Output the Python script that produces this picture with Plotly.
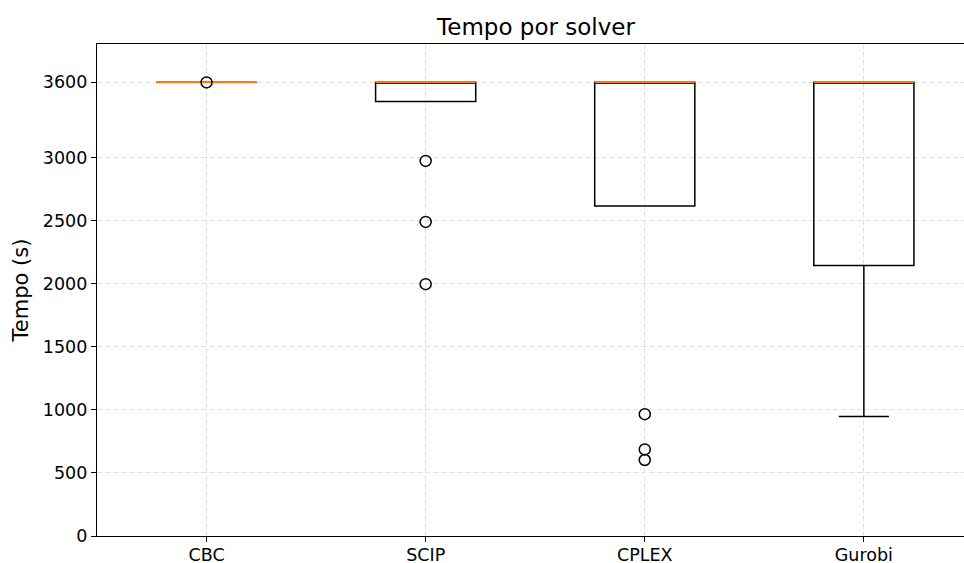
import plotly.graph_objects as go

solvers = ["CBC", "SCIP", "CPLEX", "Gurobi"]
q1 = [3600, 3447, 2619, 2147]
median = [3600, 3600, 3600, 3600]
q3 = [3600, 3600, 3600, 3600]
lowerfence = [3600, 3447, 2619, 949]
upperfence = [3600, 3600, 3600, 3600]
outliers = {
    "CBC": [3599],
    "SCIP": [2976, 2492, 1998],
    "CPLEX": [967, 687, 603],
    "Gurobi": [],
}
yticks = [0, 500, 1000, 1500, 2000, 2500, 3000, 3600]

FONT = "DejaVu Sans"
BOXW = 0.457

fig = go.Figure()
# boxes (black)
fig.add_trace(go.Box(
    x=solvers, q1=q1, median=median, q3=q3,
    lowerfence=lowerfence, upperfence=upperfence,
    width=BOXW, whiskerwidth=0.5,
    line=dict(color="black", width=1.5),
    fillcolor="rgba(255,255,255,0)",
    boxpoints=False, showlegend=False, hoverinfo="skip",
))
# medians (orange)
fig.add_trace(go.Box(
    x=solvers, q1=median, median=median, q3=median,
    lowerfence=median, upperfence=median,
    width=BOXW, whiskerwidth=0,
    line=dict(color="#ff7f0e", width=2.1),
    fillcolor="rgba(255,255,255,0)",
    boxpoints=False, showlegend=False, hoverinfo="skip",
))
# outliers
ox, oy = [], []
for s in solvers:
    for v in outliers[s]:
        ox.append(s)
        oy.append(v)
fig.add_trace(go.Scatter(
    x=ox, y=oy, mode="markers",
    marker=dict(symbol="circle-open", size=11, color="black", line=dict(width=1.5)),
    showlegend=False, hoverinfo="skip",
))

fig.update_layout(
    width=964, height=563,
    margin=dict(l=97, r=0, t=44, b=27),
    paper_bgcolor="white", plot_bgcolor="white",
    boxmode="overlay",
    font=dict(family=FONT, color="black", size=17.5),
    title=dict(text="Tempo por solver", font=dict(family=FONT, size=23, color="black"),
               xref="container", x=536/964, xanchor="center",
               yref="container", y=1-27/563, yanchor="middle"),
    showlegend=False,
)
fig.update_xaxes(
    type="category", categoryorder="array", categoryarray=solvers,
    range=[-0.5, 3.457], automargin=False,
    showline=True, linecolor="black", linewidth=1.2, mirror=True,
    ticks="outside", ticklen=5, tickwidth=1.2, tickcolor="black",
    ticklabelstandoff=-2,
    showgrid=True, gridcolor="#e0e0e0", griddash="5px,3px", gridwidth=1,
    tickfont=dict(family=FONT, size=17.5, color="black"),
    zeroline=False,
)
fig.update_yaxes(
    range=[0, 3904], automargin=False,
    tickvals=yticks, ticktext=[str(v) for v in yticks],
    showline=True, linecolor="black", linewidth=1.2, mirror=False,
    ticks="outside", ticklen=5, tickwidth=1.2, tickcolor="black",
    showgrid=True, gridcolor="#e0e0e0", griddash="5px,3px", gridwidth=1,
    tickfont=dict(family=FONT, size=17.5, color="black"),
    title=dict(text="Tempo (s)", font=dict(family=FONT, size=21, color="black"), standoff=8),
    zeroline=False,
)

fig.write_html("out.html")
